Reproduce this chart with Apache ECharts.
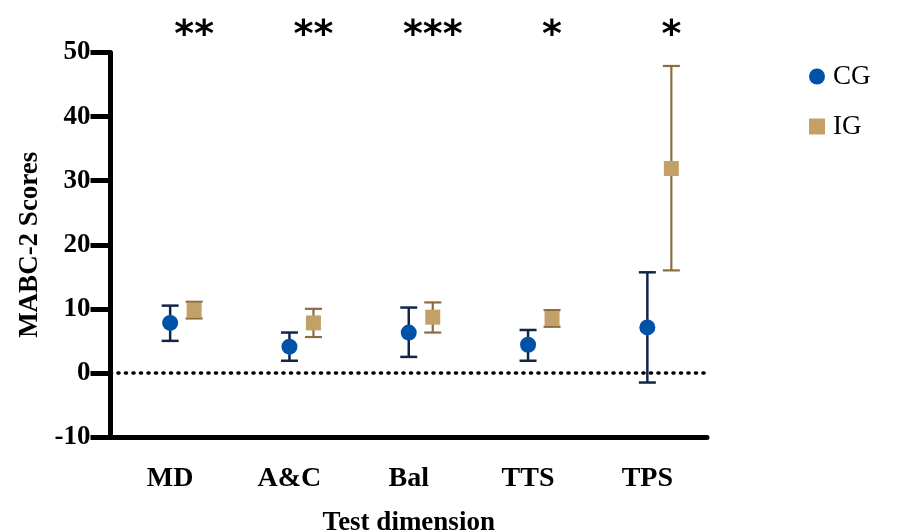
<!DOCTYPE html>
<html>
<head>
<meta charset="utf-8">
<script src="https://cdn.jsdelivr.net/npm/echarts@6/dist/echarts.min.js"></script>
<style>html,body{margin:0;padding:0;background:#fff}#c{width:899px;height:532px}</style>
</head>
<body>
<div id="c"></div>
<script>
const categories = ['MD', 'A&C', 'Bal', 'TTS', 'TPS'];
const cgMean = [7.8, 4.1, 6.3, 4.4, 7.1];
const cgLow  = [5.0, 1.9, 2.5, 1.9, -1.5];
const cgHigh = [10.5, 6.3, 10.2, 6.7, 15.7];
const igMean = [9.8, 7.8, 8.7, 8.5, 31.9];
const igLow  = [8.5, 5.6, 6.3, 7.2, 16.0];
const igHigh = [11.1, 10.0, 11.0, 9.8, 47.9];
const significance = ['**', '**', '***', '*', '*'];
const yMin = -10, yMax = 50, yStep = 10;

const IG_OFFSET = 24;
const CG_COLOR = '#0052a8', CG_BAR = '#14254a';
const IG_COLOR = '#c4a069', IG_BAR = '#8a6c3f';

function errData(low, high) {
  return categories.map((c, i) => [i, low[i], high[i]]);
}
function errRender(dx, color, width) {
  return function (params, api) {
    const lo = api.coord([api.value(0), api.value(1)]);
    const hi = api.coord([api.value(0), api.value(2)]);
    const x = lo[0] + dx, cap = 8.5;
    const st = { stroke: color, lineWidth: width };
    return {
      type: 'group',
      children: [
        { type: 'line', shape: { x1: x, y1: lo[1], x2: x, y2: hi[1] }, style: st },
        { type: 'line', shape: { x1: x - cap, y1: lo[1], x2: x + cap, y2: lo[1] }, style: st },
        { type: 'line', shape: { x1: x - cap, y1: hi[1], x2: x + cap, y2: hi[1] }, style: st }
      ]
    };
  };
}

const chart = echarts.init(document.getElementById('c'), null, { renderer: 'canvas' });
const serif = 'Liberation Serif';
chart.setOption({
  animation: false,
  backgroundColor: '#fff',
  grid: { left: 110.5, right: 192, top: 52.5, bottom: 95, containLabel: false, outerBoundsMode: 'none' },
  legend: {
    orient: 'vertical', left: 804, top: 58, itemWidth: 16, itemHeight: 16, itemGap: 23,
    data: [{ name: 'CG', icon: 'circle' }, { name: 'IG', icon: 'rect' }],
    textStyle: { fontFamily: serif, fontSize: 27, color: '#000', padding: [0, 0, 0, 3] }
  },
  xAxis: {
    type: 'category', data: categories,
    name: 'Test dimension', nameLocation: 'middle', nameGap: 73,
    nameTextStyle: { fontFamily: serif, fontWeight: 'bold', fontSize: 27, color: '#000' },
    axisLine: { onZero: false, lineStyle: { color: '#000', width: 5 } },
    axisTick: { alignWithLabel: true, length: 16, lineStyle: { width: 5, color: '#000' } },
    axisLabel: { fontFamily: serif, fontWeight: 'bold', fontSize: 28, color: '#000', margin: 28 },
    splitLine: { show: false }
  },
  yAxis: {
    type: 'value', min: yMin, max: yMax, interval: yStep,
    name: 'MABC-2 Scores', nameLocation: 'middle', nameGap: 50,
    nameTextStyle: { fontFamily: serif, fontWeight: 'bold', fontSize: 27, color: '#000' },
    axisLine: { show: true, lineStyle: { color: '#000', width: 5 } },
    axisTick: { show: true, length: 20, lineStyle: { width: 5, color: '#000' } },
    axisLabel: { fontFamily: serif, fontWeight: 'bold', fontSize: 27, color: '#000', margin: 20 },
    splitLine: { show: false }
  },
  series: [
    {
      name: 'CG err', type: 'custom', data: errData(cgLow, cgHigh),
      renderItem: errRender(0, CG_BAR, 2.5), z: 2,
      markLine: {
        silent: true, symbol: 'none', label: { show: false },
        lineStyle: { color: '#000', width: 3.6, type: [1, 6.5], cap: 'round' },
        data: [{ yAxis: 0 }]
      }
    },
    {
      name: 'IG err', type: 'custom', data: errData(igLow, igHigh),
      renderItem: errRender(IG_OFFSET, IG_BAR, 2.2), z: 2
    },
    {
      name: 'CG', type: 'scatter', data: cgMean, symbol: 'circle', symbolSize: 16,
      itemStyle: { color: CG_COLOR, opacity: 1 }, z: 5
    },
    {
      name: 'IG', type: 'scatter', data: igMean, symbol: 'rect', symbolSize: 15,
      symbolOffset: [IG_OFFSET, 0],
      itemStyle: { color: IG_COLOR, opacity: 1 }, z: 5
    },
    {
      name: 'sig', type: 'custom', clip: false,
      data: significance.map((s, i) => [i, yMax]),
      renderItem: function (params, api) {
        const p = api.coord([api.value(0), api.value(1)]);
        return {
          type: 'text',
          x: p[0] + IG_OFFSET, y: p[1] - 16,
          style: {
            text: significance[params.dataIndex],
            fontFamily: 'DejaVu Sans', fontWeight: 'bold', fontSize: 38,
            fill: '#000', align: 'center', verticalAlign: 'middle'
          }
        };
      }
    }
  ]
});
</script>
</body>
</html>
